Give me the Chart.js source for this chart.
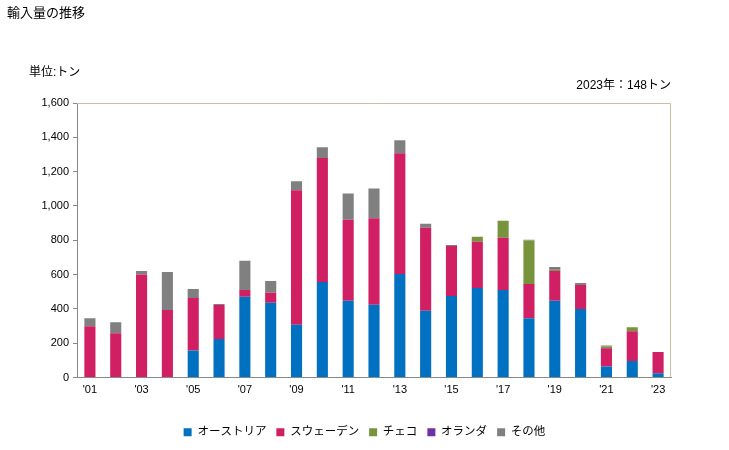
<!DOCTYPE html>
<html>
<head>
<meta charset="utf-8">
<script src="https://cdn.jsdelivr.net/npm/chart.js@4"></script>
<style>
  html, body { margin: 0; padding: 0; background: #fff; }
  #wrap { width: 729px; height: 450px; position: relative; }
</style>
</head>
<body>
<div id="wrap"><canvas id="importChart"></canvas></div>
<script>
// 年（2001〜2023）
const years = ['2001','2002','2003','2004','2005','2006','2007','2008','2009','2010','2011','2012',
               '2013','2014','2015','2016','2017','2018','2019','2020','2021','2022','2023'];
// 国別の輸入量（トン）
const austria = [0, 0, 0, 0, 158, 225, 471, 436, 307, 557, 447, 424, 603, 389, 475, 521, 510, 346, 447, 400, 64, 96, 25];
const sweden  = [299, 258, 600, 393, 305, 197, 39, 58, 785, 722, 473, 504, 704, 484, 292, 270, 304, 199, 174, 139, 106, 174, 123];
const czech   = [0, 0, 0, 0, 0, 0, 0, 0, 0, 0, 0, 0, 0, 0, 0, 29, 100, 254, 10, 0, 10, 23, 0];
const netherlands = [0, 0, 0, 0, 0, 0, 0, 0, 0, 0, 0, 0, 0, 0, 0, 0, 0, 0, 6, 0, 0, 0, 0];
const others  = [47, 64, 21, 222, 53, 6, 170, 68, 52, 63, 152, 173, 76, 23, 6, 0, 0, 4, 7, 12, 7, 0, 0];
const yTicks = [0, 200, 400, 600, 800, 1000, 1200, 1400, 1600];

const jpFont = '"Liberation Sans", "Noto Sans CJK JP", sans-serif';

// 見出しなどのテキスト
const textPlugin = {
    id: 'headerText',
    afterDraw(chart) {
        const ctx = chart.ctx;
        ctx.save();
        ctx.fillStyle = '#000';
        ctx.textBaseline = 'middle';
        ctx.font = '13px ' + jpFont;
        ctx.textAlign = 'left';
        ctx.fillText('輸入量の推移', 7, 13);
        ctx.font = '12px ' + jpFont;
        ctx.fillText('単位:トン', 29, 73);
        ctx.textAlign = 'right';
        ctx.fillText('2023年：148トン', 671, 86);
        // 上と右の枠線
        const a = chart.chartArea;
        ctx.strokeStyle = '#c8c0a0';
        ctx.lineWidth = 1;
        ctx.beginPath();
        ctx.moveTo(a.left, a.top + 0.5);
        ctx.lineTo(a.right - 0.5, a.top + 0.5);
        ctx.lineTo(a.right - 0.5, a.bottom);
        ctx.stroke();
        ctx.restore();
    }
};

const ctx = document.getElementById('importChart').getContext('2d');
const barOpts = { barPercentage: 0.43, categoryPercentage: 1.0, borderWidth: 0 };

new Chart(ctx, {
    type: 'bar',
    data: {
        labels: years,
        datasets: [
            { label: 'オーストリア', data: austria, backgroundColor: '#0070c0', ...barOpts },
            { label: 'スウェーデン', data: sweden, backgroundColor: '#d01f63', ...barOpts },
            { label: 'チェコ', data: czech, backgroundColor: '#77933c', ...barOpts },
            { label: 'オランダ', data: netherlands, backgroundColor: '#7030a0', ...barOpts },
            { label: 'その他', data: others, backgroundColor: '#808080', ...barOpts }
        ]
    },
    options: {
        responsive: true,
        maintainAspectRatio: false,
        animation: false,
        layout: { padding: { top: 103, right: 0, left: 0, bottom: 2 } },
        plugins: {
            legend: {
                position: 'bottom',
                labels: {
                    boxWidth: 8,
                    boxHeight: 8,
                    padding: 10,
                    color: '#000',
                    font: { size: 11.5, family: jpFont }
                }
            },
            tooltip: { enabled: false }
        },
        scales: {
            x: {
                stacked: true,
                grid: { display: false, drawTicks: false },
                border: { color: '#888', width: 1 },
                ticks: {
                    color: '#000',
                    font: { size: 11, family: jpFont },
                    maxRotation: 0,
                    autoSkip: false,
                    padding: 6,
                    callback: function(v, i) {
                        const y = years[i];
                        return (i % 2 === 0) ? "'" + y.slice(2) : '';
                    }
                },
                afterFit(scale) { scale.height = 39; }
            },
            y: {
                stacked: true,
                min: 0,
                max: 1600,
                afterBuildTicks(scale) { scale.ticks = yTicks.map(v => ({ value: v })); },
                grid: { display: true, drawOnChartArea: false, tickLength: 4, color: '#888' },
                border: { color: '#888', width: 1 },
                ticks: {
                    color: '#000',
                    font: { size: 11, family: jpFont },
                    padding: 4,
                    callback: v => v.toLocaleString('en-US')
                },
                afterFit(scale) { scale.width = 77; }
            },
            // 右側の余白用（表示なし）
            yRight: {
                position: 'right',
                grid: { display: false, drawTicks: false },
                border: { display: false },
                ticks: { display: false },
                afterFit(scale) { scale.width = 58; }
            }
        }
    },
    plugins: [textPlugin]
});
</script>
</body>
</html>
